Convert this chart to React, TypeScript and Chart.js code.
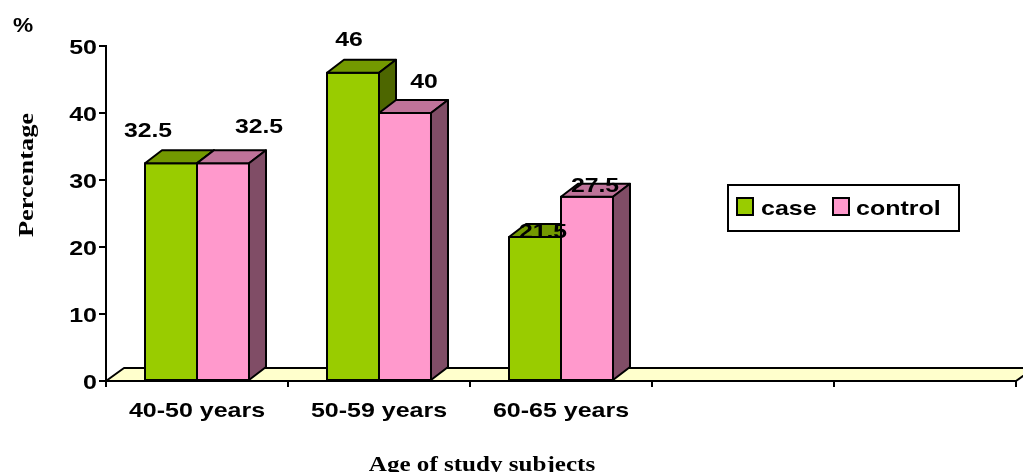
import { useEffect, useRef } from "react";
import { Chart, registerables } from "chart.js";

Chart.register(...registerables);

// ---- data ----
const categories = ["40-50 years", "50-59 years", "60-65 years", "", ""];
const caseValues: (number | null)[] = [32.5, 46, 21.5, null, null];
const controlValues: (number | null)[] = [32.5, 40, 27.5, null, null];
const yTicks = [0, 10, 20, 30, 40, 50];
const seriesNames = ["case", "control"];

// ---- styling ----
const caseColors = { front: "#99CC00", top: "#739900", side: "#4D6600" };
const controlColors = { front: "#FF99CC", top: "#BF7399", side: "#804D66" };
const floorColor = "#FFFFCC";
const DEPTH_X = 17;
const DEPTH_Y = -13;
const SANS = "'Liberation Sans', Arial, sans-serif";
const SERIF = "'Liberation Serif', 'Times New Roman', serif";
const WIDE = 1.19; // horizontal widening of the bold sans labels

// value label nudges from each bar's front-top edge centre: [dx, dy]
const caseLabelNudge = [[-23, -26], [-4, -27], [8, 1]];
const controlLabelNudge = [[36, -30], [19, -25], [8, -5]];

function drawText(
  ctx: CanvasRenderingContext2D,
  text: string,
  x: number,
  y: number,
  font: string,
  sx: number,
  align: CanvasTextAlign,
  rotate = 0
) {
  ctx.save();
  ctx.translate(x, y);
  if (rotate) ctx.rotate(rotate);
  ctx.scale(sx, 1);
  ctx.font = font;
  ctx.textAlign = align;
  ctx.textBaseline = "alphabetic";
  ctx.fillStyle = "#000";
  ctx.fillText(text, 0, 0);
  ctx.restore();
}

function poly(ctx: CanvasRenderingContext2D, pts: number[][], fill: string) {
  ctx.beginPath();
  ctx.moveTo(pts[0][0], pts[0][1]);
  for (let i = 1; i < pts.length; i++) ctx.lineTo(pts[i][0], pts[i][1]);
  ctx.closePath();
  ctx.fillStyle = fill;
  ctx.fill();
  ctx.stroke();
}

const floorPlugin = {
  id: "floor3d",
  beforeDatasetsDraw(chart: any) {
    const { ctx, chartArea } = chart;
    const { left, right, bottom } = chartArea;
    ctx.save();
    ctx.lineWidth = 2;
    ctx.strokeStyle = "#000";
    ctx.lineJoin = "round";
    poly(
      ctx,
      [
        [left, bottom],
        [left + DEPTH_X + 1, bottom + DEPTH_Y],
        [right + DEPTH_X + 1, bottom + DEPTH_Y],
        [right, bottom],
      ],
      floorColor
    );
    ctx.restore();
  },
};

const barsPlugin = {
  id: "bars3d",
  afterDatasetsDraw(chart: any) {
    const { ctx } = chart;
    const series = [
      { values: caseValues, colors: caseColors },
      { values: controlValues, colors: controlColors },
    ];
    ctx.save();
    ctx.lineWidth = 2;
    ctx.strokeStyle = "#000";
    ctx.lineJoin = "round";
    for (let i = 0; i < categories.length; i++) {
      series.forEach((s, d) => {
        if (s.values[i] == null) return;
        const el = chart.getDatasetMeta(d).data[i];
        const { x, y, base, width } = el.getProps(["x", "y", "base", "width"], true);
        const xl = x - width / 2;
        const xr = x + width / 2;
        poly(ctx, [[xl, y], [xr, y], [xr, base], [xl, base]], s.colors.front);
        poly(
          ctx,
          [[xl, y], [xl + DEPTH_X, y + DEPTH_Y], [xr + DEPTH_X, y + DEPTH_Y], [xr, y]],
          s.colors.top
        );
        poly(
          ctx,
          [[xr, y], [xr + DEPTH_X, y + DEPTH_Y], [xr + DEPTH_X, base + DEPTH_Y], [xr, base]],
          s.colors.side
        );
      });
    }
    ctx.restore();
  },
};

const textPlugin = {
  id: "texts",
  afterDraw(chart: any) {
    const { ctx, chartArea, scales } = chart;
    const bold = `bold 21px ${SANS}`;

    // y tick labels
    yTicks.forEach((v) => {
      const py = scales.y.getPixelForValue(v);
      drawText(ctx, String(v), chartArea.left - 9, py + 7.5, bold, WIDE, "right");
    });
    drawText(ctx, "%", 13, 32, bold, 1.08, "left");

    // x tick labels
    categories.forEach((c, i) => {
      if (!c) return;
      drawText(ctx, c, scales.x.getPixelForValue(i), 417, bold, WIDE, "center");
    });

    // axis titles
    drawText(ctx, "Age of study subjects", 482, 471, `bold 22px ${SERIF}`, 1.14, "center");
    drawText(ctx, "Percentage", 33, 175, `bold 22px ${SERIF}`, 1.2, "center", -Math.PI / 2);

    // value labels
    const series = [
      { values: caseValues, nudge: caseLabelNudge },
      { values: controlValues, nudge: controlLabelNudge },
    ];
    series.forEach((s, d) => {
      const meta = chart.getDatasetMeta(d);
      s.values.forEach((v, i) => {
        if (v == null) return;
        const { x, y } = meta.data[i].getProps(["x", "y"], true);
        const [dx, dy] = s.nudge[i] || [0, -26];
        drawText(ctx, String(v), x + dx, y + dy, bold, 1.18, "center");
      });
    });

    // legend
    ctx.save();
    ctx.lineWidth = 2;
    ctx.strokeStyle = "#000";
    ctx.fillStyle = "#fff";
    ctx.fillRect(728, 185, 231, 46);
    ctx.strokeRect(728, 185, 231, 46);
    const swatches = [
      { x: 737, color: caseColors.front, tx: 761 },
      { x: 833, color: controlColors.front, tx: 856 },
    ];
    swatches.forEach((sw, k) => {
      ctx.fillStyle = sw.color;
      ctx.fillRect(sw.x, 198, 16, 17);
      ctx.strokeRect(sw.x, 198, 16, 17);
      drawText(ctx, seriesNames[k], sw.tx, 215, bold, WIDE, "left");
    });
    ctx.restore();
  },
};

export default function App() {
  const canvasRef = useRef<HTMLCanvasElement | null>(null);

  useEffect(() => {
    const canvas = canvasRef.current;
    if (!canvas) return;
    const chart = new Chart(canvas, {
      type: "bar",
      data: {
        labels: categories,
        datasets: [
          {
            label: seriesNames[0],
            data: caseValues,
            backgroundColor: caseColors.front,
            borderWidth: 0,
            categoryPercentage: 0.5714,
            barPercentage: 1,
          },
          {
            label: seriesNames[1],
            data: controlValues,
            backgroundColor: controlColors.front,
            borderWidth: 0,
            categoryPercentage: 0.5714,
            barPercentage: 1,
          },
        ],
      },
      options: {
        animation: false,
        responsive: false,
        devicePixelRatio: 1,
        layout: { padding: { top: 46, right: 7, left: 0, bottom: 0 } },
        plugins: {
          legend: { display: false },
          tooltip: { enabled: false },
          title: { display: false },
        },
        scales: {
          x: {
            type: "category",
            offset: true,
            ticks: { display: false },
            grid: {
              offset: true,
              drawOnChartArea: false,
              drawTicks: true,
              tickLength: 6,
              color: "#000",
              lineWidth: 2,
            },
            border: { display: true, color: "#000", width: 2 },
            afterFit: (s: any) => {
              s.height = 91;
            },
          },
          y: {
            min: 0,
            max: 50,
            ticks: { display: false, stepSize: 10 },
            grid: {
              drawOnChartArea: false,
              drawTicks: true,
              tickLength: 7,
              color: "#000",
              lineWidth: 2,
            },
            border: { display: true, color: "#000", width: 2 },
            afterFit: (s: any) => {
              s.width = 106;
            },
          },
        },
      },
      plugins: [floorPlugin, barsPlugin, textPlugin],
    } as any);
    return () => chart.destroy();
  }, []);

  return (
    <div style={{ position: "absolute", left: 0, top: 0, width: 1023, height: 472, background: "#fff" }}>
      <canvas ref={canvasRef} width={1023} height={472} />
    </div>
  );
}
